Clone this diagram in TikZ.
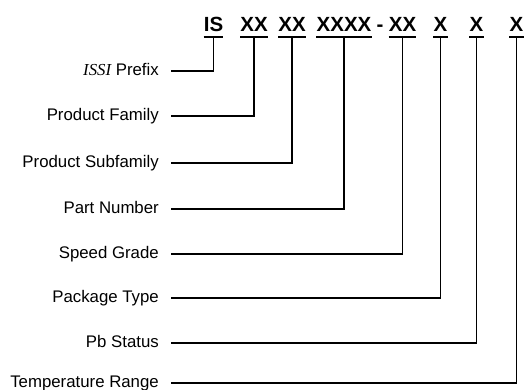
\documentclass[tikz,border=0pt]{standalone}
\usepackage{fontspec}
\setmainfont{Liberation Sans}
\newfontfamily\tnr{Liberation Serif}
\begin{document}
\begin{tikzpicture}[x=1pt,y=-1pt,
  code/.style={font=\fontsize{20.5}{24}\selectfont\bfseries, inner sep=0pt, anchor=base},
  lab/.style={font=\fontsize{16.8}{19}\selectfont, inner sep=0pt, anchor=base east},
  bar/.style={line width=1.6pt},
  wire/.style={line width=1.3pt}]
\useasboundingbox (0,0) rectangle (525,390);
% code letters
\node[code] (cIS) at (213.5,32) {IS};
\node[code] (cPF) at (254,32) {XX};
\node[code] (cPS) at (292,32) {XX};
\node[code] (cPN) at (344,32) {XXXX};
\node[code] (dash) at (380,32) {-};
\node[code] (cSG) at (402.5,32) {XX};
\node[code] (cPT) at (440.5,32) {X};
\node[code] (cPB) at (476.5,32) {X};
\node[code] (cTR) at (516.5,32) {X};
% labels
\node[lab] (lIS) at (159,75.5) {{\tnr\itshape ISSI} Prefix};
\node[lab] (lPF) at (159,120.5) {Product Family};
\node[lab] (lPS) at (159,167.5) {Product Subfamily};
\node[lab] (lPN) at (159,213.5) {Part Number};
\node[lab] (lSG) at (159,258.5) {Speed Grade};
\node[lab] (lPT) at (159,302.5) {Package Type};
\node[lab] (lPB) at (159,347.5) {Pb Status};
\node[lab] (lTR) at (159,387.5) {Temperature Range};
% bars and connectors
\foreach \c/\l in {cIS/lIS,cPF/lPF,cPS/lPS,cPN/lPN,cSG/lSG,cPT/lPT,cPB/lPB,cTR/lTR}{
  \draw[bar] ([yshift=-5pt]\c.base west) -- ([yshift=-5pt]\c.base east);
  \draw[wire] ([yshift=-5pt]\c.base) |- ([xshift=12pt,yshift=4.5pt]\l.base east);
}
\end{tikzpicture}
\end{document}
